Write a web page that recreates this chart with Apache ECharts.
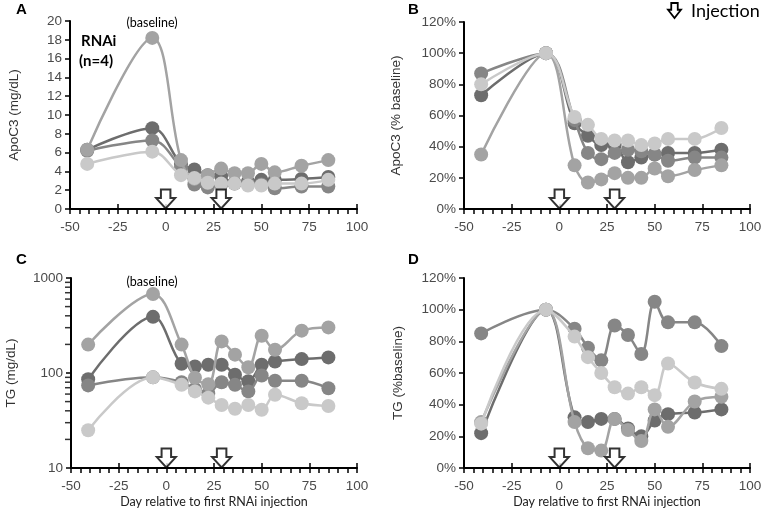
<!DOCTYPE html>
<html><head><meta charset="utf-8">
<script src="https://cdn.jsdelivr.net/npm/echarts@6/dist/echarts.min.js"></script>
<style>html,body{margin:0;padding:0;background:#fff}#c{width:766px;height:514px}</style>
</head><body><div id="c"></div>
<script>
// ---- data ----
const days = [-41, -7, 8, 15, 22, 29, 36, 43, 50, 57, 71, 85];
const injectionDays = [0, 29];
const logMinorTicks = [20, 30, 40, 50, 60, 70, 80, 90, 200, 300, 400, 500, 600, 700, 800, 900];
const seriesNames = ['Subject 1', 'Subject 2', 'Subject 3', 'Subject 4'];
const seriesColors = ['#6d6d6d', '#868686', '#a3a3a3', '#c9c9c9'];

// Panel A: ApoC3 (mg/dL)
const apoc3Dark  = [6.3, 8.6, 4.8, 4.2, 3.6, 3.5, 2.7, 2.9, 3.1, 3.1, 3.2, 3.4];
const apoc3Mid   = [6.2, 7.3, 4.4, 2.6, 2.3, 2.6, 2.8, 2.7, 2.6, 2.2, 2.4, 2.4];
const apoc3Pale  = [6.3, 18.2, 5.2, 3.2, 3.6, 4.3, 3.8, 3.8, 4.8, 3.9, 4.6, 5.2];
const apoc3Light = [4.8, 6.1, 3.6, 3.3, 2.8, 2.7, 2.7, 2.5, 2.5, 2.7, 2.7, 3.1];
// Panel B: ApoC3 (% baseline)
const apoc3PctDark  = [73, 100, 55, 47, 41, 41, 30, 33, 35, 36, 36, 38];
const apoc3PctMid   = [87, 100, 57, 36, 32, 36, 38, 37, 35, 31, 33, 33];
const apoc3PctPale  = [35, 100, 28, 17, 19, 23, 20, 20, 26, 21, 25, 28];
const apoc3PctLight = [80, 100, 59, 54, 45, 44, 44, 41, 42, 45, 45, 52];
// Panel C: TG (mg/dL)
const tgDark  = [86, 390, 125, 117, 122, 122, 96, 82, 122, 132, 140, 146];
const tgMid   = [74, 90, 80, 68, 61, 80, 75, 64, 94, 83, 83, 69];
const tgPale  = [199, 679, 199, 89, 76, 215, 156, 115, 247, 176, 279, 302];
const tgLight = [25, 90, 75, 64, 55, 46, 42, 46, 41, 59, 48, 45];
// Panel D: TG (% baseline)
const tgPctDark  = [22, 100, 32, 29, 31, 31, 25, 20, 30, 34, 35, 37];
const tgPctMid   = [85, 100, 88, 76, 68, 90, 84, 72, 105, 92, 92, 77];
const tgPctPale  = [29, 100, 29, 12.5, 11, 31, 24, 17, 37, 26, 42, 45];
const tgPctLight = [28, 100, 83, 70, 60, 51, 47, 51, 46, 66, 54, 50];

// ---- chart ----
const ARIAL = 'Liberation Sans, Arial, sans-serif';
const CAL = 'Lato, Carlito, Calibri, sans-serif';
const grids = [
  {left: 70, top: 21, width: 287, height: 188},
  {left: 464, top: 22, width: 286, height: 187},
  {left: 71, top: 278, width: 286, height: 190},
  {left: 464, top: 278, width: 286, height: 190}
];
const xName = 'Day relative to first RNAi injection';
const labelStyle = {fontSize: 13.5, color: '#4a4a4a', fontFamily: ARIAL};
function mainX(i, withName) {
  return {
    type: 'value', gridIndex: i, min: -50, max: 100, interval: 25, position: 'bottom',
    axisLine: {onZero: false, lineStyle: {color: '#000', width: 2}},
    axisTick: {show: true, length: 5, lineStyle: {color: '#000', width: 1.5}},
    minorTick: {show: true, splitNumber: 5, length: 5, lineStyle: {color: '#000', width: 1.5}},
    splitLine: {show: false},
    axisLabel: Object.assign({margin: 11}, labelStyle),
    name: withName ? xName : '', nameLocation: 'middle', nameGap: 27,
    nameTextStyle: {fontSize: 12.5, color: '#222', fontFamily: CAL}
  };
}
function overlayX(i) {
  return {
    type: 'value', gridIndex: i, min: -50, max: 100, interval: 25, position: 'bottom',
    axisLine: {show: false, onZero: false}, axisLabel: {show: false}, splitLine: {show: false},
    axisTick: {show: true, inside: true, length: 5, lineStyle: {color: '#000', width: 1.5}}
  };
}
function yAx(i, extra) {
  return Object.assign({
    type: 'value', gridIndex: i, position: 'left',
    axisLine: {show: true, onZero: false, lineStyle: {color: '#000', width: 2}},
    axisTick: {show: true, length: 5, lineStyle: {color: '#000', width: 1.5}},
    splitLine: {show: false},
    axisLabel: Object.assign({margin: 8}, labelStyle),
    nameLocation: 'middle', nameRotate: 90,
    nameTextStyle: {fontSize: 13.5, color: '#333', fontFamily: ARIAL}
  }, extra);
}
const xAxes = [mainX(0, false), mainX(1, false), mainX(2, true), mainX(3, true),
  overlayX(0), overlayX(1), overlayX(2), overlayX(3)];
const pctLabel = Object.assign({margin: 8, formatter: '{value}%'}, labelStyle);
const yAxes = [
  yAx(0, {min: 0, max: 20, interval: 2, name: 'ApoC3 (mg/dL)', nameGap: 49}),
  yAx(1, {min: 0, max: 120, interval: 20, name: 'ApoC3 (% baseline)', nameGap: 61, axisLabel: pctLabel}),
  yAx(2, {type: 'log', logBase: 10, min: 10, max: 1000, name: 'TG (mg/dL)', nameGap: 53,
    axisLabel: Object.assign({margin: 8, formatter: v => String(Math.round(v))}, labelStyle)}),
  yAx(3, {min: 0, max: 120, interval: 20, name: 'TG (%baseline)', nameGap: 59, axisLabel: pctLabel})
];
const panels = [
  [apoc3Dark, apoc3Mid, apoc3Pale, apoc3Light],
  [apoc3PctDark, apoc3PctMid, apoc3PctPale, apoc3PctLight],
  [tgDark, tgMid, tgPale, tgLight],
  [tgPctDark, tgPctMid, tgPctPale, tgPctLight]
];
const axisMins = [0, 0, 10, 0];
const series = [];
panels.forEach((arrs, p) => {
  arrs.forEach((vals, k) => {
    series.push({
      type: 'line', name: seriesNames[k], xAxisIndex: p, yAxisIndex: p,
      data: days.map((d, j) => [d, vals[j]]),
      smooth: 0.35, symbol: 'circle', symbolSize: 14,
      lineStyle: {color: seriesColors[k], width: 2.5},
      itemStyle: {color: seriesColors[k]},
      z: 2 + k, clip: false
    });
  });
  series.push({
    type: 'scatter', xAxisIndex: p, yAxisIndex: p, silent: true, clip: false, z: 20,
    data: injectionDays.map(d => [d, axisMins[p]]),
    symbol: 'path://M5,0 L15,0 L15,9 L20,9 L10,20 L0,9 L5,9 Z',
    symbolSize: [19, 19], symbolOffset: [0, -10],
    itemStyle: {color: '#fff', borderColor: '#000', borderWidth: 2}
  });
});
series.push({
  type: 'scatter', xAxisIndex: 2, yAxisIndex: 2, silent: true, clip: false, z: 20,
  data: logMinorTicks.map(v => [-50, v]),
  symbol: 'rect', symbolSize: [5, 1.5], symbolOffset: [-3.5, 0],
  itemStyle: {color: '#000'}
});

const txt = (x, y, text, size, bold, font, align) => ({
  type: 'text', x: x, y: y,
  style: {text: text, fontSize: size, fontWeight: bold ? 'bold' : 'normal', fontFamily: font,
    fill: '#000', textAlign: align || 'left', textVerticalAlign: 'middle'}
});
const chart = echarts.init(document.getElementById('c'), null, {renderer: 'canvas'});
chart.setOption({
  animation: false,
  backgroundColor: '#fff',
  grid: grids,
  xAxis: xAxes,
  yAxis: yAxes,
  series: series,
  graphic: [
    txt(16, 10, 'A', 15, true, ARIAL),
    txt(408, 10, 'B', 15, true, ARIAL),
    txt(16, 260, 'C', 15, true, ARIAL),
    txt(408, 260, 'D', 15, true, ARIAL),
    txt(152, 23, '(baseline)', 12.5, false, CAL, 'center'),
    txt(152, 282, '(baseline)', 12.5, false, CAL, 'center'),
    txt(81, 41, 'RNAi', 15, true, CAL),
    txt(79, 61, '(n=4)', 15, true, CAL),
    {type: 'polygon', x: 668, y: 3,
      shape: {points: [[3.25, 0], [9.75, 0], [9.75, 6.75], [13, 6.75], [6.5, 15], [0, 6.75], [3.25, 6.75]]},
      style: {fill: '#fff', stroke: '#000', lineWidth: 1.8}},
    txt(691, 11, 'Injection', 18, false, CAL)
  ]
});
</script></body></html>
